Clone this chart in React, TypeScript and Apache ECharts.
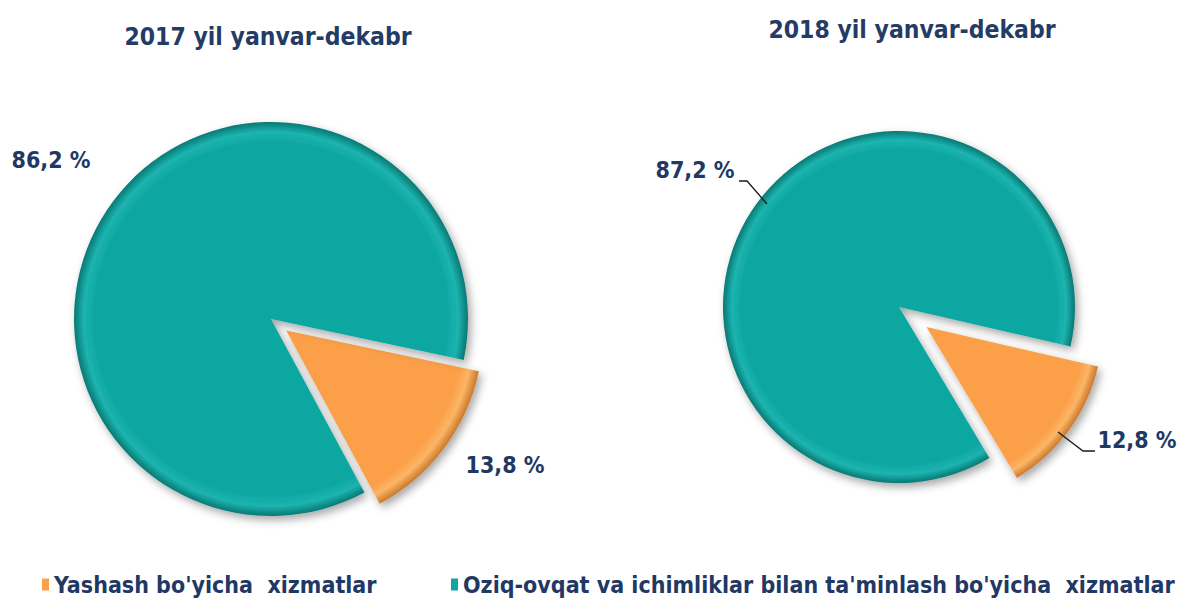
import React, { useEffect, useRef } from "react";
import * as echarts from "echarts";

// ---- data ----
const categories = ["Yashash bo'yicha  xizmatlar", "Oziq-ovqat va ichimliklar bilan ta'minlash bo'yicha  xizmatlar"];
const titles = ["2017 yil yanvar-dekabr", "2018 yil yanvar-dekabr"];
const values2017 = [13.8, 86.2];
const values2018 = [12.8, 87.2];

// ---- styling / layout (not data) ----
const FONT = "'Liberation Sans Narrow', 'DejaVu Sans Condensed', 'Arial Narrow', sans-serif";
const TEXT_COLOR = "#1F3864";
const ORANGE = "#FBA04A";
const TEAL = "#10A7A2";
const PIES = [
  { center: [271, 319], radius: 197, offset: 19, startAngle: -12 },
  { center: [899, 307], radius: 176, offset: 34, startAngle: -13 },
];
const LABEL_POS = [
  [{ x: 505, y: 465 }, { x: 51, y: 160 }],
  [{ x: 1137, y: 440 }, { x: 695, y: 170 }],
];
const LABEL_LINES = [
  [null, null],
  [
    [[1058, 432], [1083, 451], [1095, 451]],
    [[767, 204], [747, 181], [739, 181]],
  ],
];
const LEGEND_LEFT = [37, 446];

function grad(cx: number, cy: number, r: number, base: string, light: string, dark: string) {
  return new echarts.graphic.RadialGradient(cx, cy, r, [
    { offset: 0, color: base },
    { offset: 0.9, color: base },
    { offset: 0.95, color: light },
    { offset: 1, color: dark },
  ], true);
}

function pieSeries(idx: number, values: number[]) {
  const p = PIES[idx];
  const [cx, cy] = p.center;
  const shadow = { shadowBlur: 8, shadowColor: "rgba(0,0,0,0.35)", shadowOffsetX: 3, shadowOffsetY: 4 };
  const orangeStyle = { color: grad(cx, cy, p.radius, ORANGE, "#FDB567", "#C9782A"), ...shadow };
  const tealStyle = { color: grad(cx, cy, p.radius, TEAL, "#1CB4AF", "#087874"), ...shadow };
  return {
    type: "pie",
    center: p.center,
    radius: p.radius,
    startAngle: p.startAngle,
    clockwise: true,
    selectedMode: "single",
    selectedOffset: p.offset,
    emphasis: { disabled: true },
    label: { show: false },
    labelLine: { show: false },
    data: [
      { name: categories[0], value: values[0], selected: true, itemStyle: orangeStyle, select: { itemStyle: orangeStyle } },
      { name: categories[1], value: values[1], itemStyle: tealStyle },
    ],
  };
}

// transparent twin pie that only carries the value labels
function labelSeries(idx: number, values: number[]) {
  const p = PIES[idx];
  return {
    type: "pie",
    center: p.center,
    radius: p.radius,
    startAngle: p.startAngle,
    clockwise: true,
    silent: true,
    z: 5,
    avoidLabelOverlap: false,
    emphasis: { disabled: true },
    itemStyle: { color: "rgba(0,0,0,0)" },
    data: [
      { name: categories[0], value: values[0] },
      { name: categories[1], value: values[1] },
    ],
    label: {
      show: true,
      position: "outside",
      formatter: (pr: any) => `${String(pr.value).replace(".", ",")} %`,
      fontFamily: FONT,
      fontSize: 23,
      fontWeight: "bold",
      color: TEXT_COLOR,
    },
    labelLine: {
      show: idx === 1,
      lineStyle: { color: "#1a1a1a", width: 1.3 },
    },
    labelLayout: (params: any) => {
      const pos = LABEL_POS[idx][params.dataIndex];
      const res: any = { x: pos.x, y: pos.y, align: "center", verticalAlign: "middle" };
      const pts = LABEL_LINES[idx][params.dataIndex];
      if (pts) res.labelLinePoints = pts;
      return res;
    },
  };
}

function legend(i: number, color: string) {
  return {
    left: LEGEND_LEFT[i],
    top: 568,
    icon: "rect",
    itemWidth: 7,
    itemHeight: 12,
    selectedMode: false,
    textStyle: { fontFamily: FONT, fontSize: 23, fontWeight: "bold", color: TEXT_COLOR },
    data: [{ name: categories[i], itemStyle: { color } }],
  };
}

export default function App() {
  const ref = useRef<HTMLDivElement>(null);
  useEffect(() => {
    document.body.style.margin = "0";
    const chart = echarts.init(ref.current!, null, { renderer: "svg" });
    const titleStyle = { fontFamily: FONT, fontSize: 24.5, fontWeight: "bold", color: "#243B66" };
    chart.setOption({
      animation: false,
      backgroundColor: "#ffffff",
      title: [
        { text: titles[0], left: 263, top: 19, textAlign: "center", textStyle: titleStyle },
        { text: titles[1], left: 907, top: 12, textAlign: "center", textStyle: titleStyle },
      ],
      legend: [legend(0, ORANGE), legend(1, TEAL)],
      series: [pieSeries(0, values2017), pieSeries(1, values2018), labelSeries(0, values2017), labelSeries(1, values2018)],
    });
    return () => chart.dispose();
  }, []);
  return <div ref={ref} style={{ width: 1187, height: 605 }} />;
}
